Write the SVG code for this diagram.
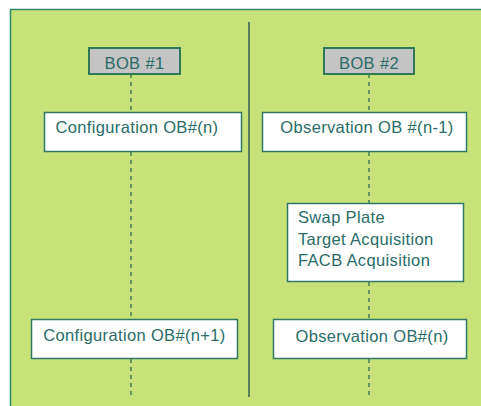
<svg xmlns="http://www.w3.org/2000/svg" width="481" height="406" viewBox="0 0 481 406">
<style>
.bg{fill:#c8e27a;stroke:#2f8a6c;stroke-width:1.5}
.box{fill:#ffffff;stroke:#2f7a66;stroke-width:1.5}
.bob{fill:#c4c4c4;stroke:#2f7a56;stroke-width:2}
.life{stroke:#2f6e4e;stroke-width:1.3;stroke-dasharray:4,4;fill:none}
.div{stroke:#2f5e4e;stroke-width:1.5}
text{font-family:"Liberation Sans",Arial,sans-serif;font-size:16.5px;letter-spacing:0.35px;fill:#2a6c68}
</style>
<rect x="0" y="0" width="481" height="406" fill="#ffffff"/>
<rect class="bg" x="10.5" y="9.5" width="475" height="400"/>
<g id="connectors">
<line class="div" x1="249" y1="22" x2="249" y2="397"/>
<line class="life" x1="131" y1="74" x2="131" y2="112"/>
<line class="life" x1="131" y1="152" x2="131" y2="319"/>
<line class="life" x1="131" y1="359" x2="131" y2="396"/>
<line class="life" x1="369" y1="74" x2="369" y2="112"/>
<line class="life" x1="369" y1="152" x2="369" y2="203"/>
<line class="life" x1="369" y1="282" x2="369" y2="319"/>
<line class="life" x1="369" y1="359" x2="369" y2="396"/>
</g>
<g id="bob1">
<rect class="bob" x="89" y="48" width="91" height="26"/>
<text x="134.5" y="69" text-anchor="middle">BOB #1</text>
</g>
<g id="bob2">
<rect class="bob" x="324" y="48" width="90" height="26"/>
<text x="369" y="69" text-anchor="middle">BOB #2</text>
</g>
<g id="config-n">
<rect class="box" x="44.5" y="112.5" width="197" height="39"/>
<text x="137" y="133" text-anchor="middle">Configuration OB#(n)</text>
</g>
<g id="obs-n-1">
<rect class="box" x="262.5" y="112.5" width="204" height="39"/>
<text x="367" y="133" text-anchor="middle">Observation OB #(n-1)</text>
</g>
<g id="swap">
<rect class="box" x="287.5" y="203.5" width="176" height="78"/>
<text x="298" y="223">Swap Plate</text>
<text x="298" y="245">Target Acquisition</text>
<text x="298" y="266">FACB Acquisition</text>
</g>
<g id="config-n1">
<rect class="box" x="31.5" y="319.5" width="206" height="39"/>
<text x="134.5" y="341" text-anchor="middle">Configuration OB#(n+1)</text>
</g>
<g id="obs-n">
<rect class="box" x="273.5" y="319.5" width="193" height="39"/>
<text x="372" y="342" text-anchor="middle">Observation OB#(n)</text>
</g>
</svg>
